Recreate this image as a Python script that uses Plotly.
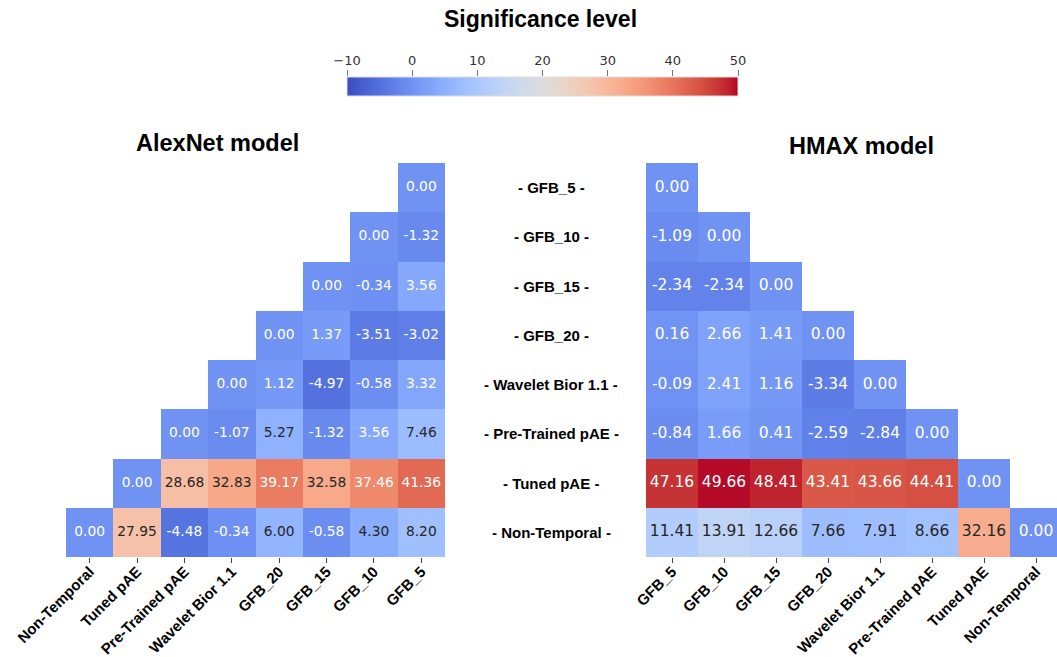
import plotly.graph_objects as go
import numpy as np

# ---------------- data ----------------
rows = ["GFB_5", "GFB_10", "GFB_15", "GFB_20", "Wavelet Bior 1.1",
        "Pre-Trained pAE", "Tuned pAE", "Non-Temporal"]
alex_cols = ["Non-Temporal", "Tuned pAE", "Pre-Trained pAE", "Wavelet Bior 1.1",
             "GFB_20", "GFB_15", "GFB_10", "GFB_5"]
hmax_cols = ["GFB_5", "GFB_10", "GFB_15", "GFB_20", "Wavelet Bior 1.1",
             "Pre-Trained pAE", "Tuned pAE", "Non-Temporal"]
N = None
alex_z = [
    [N, N, N, N, N, N, N, 0.00],
    [N, N, N, N, N, N, 0.00, -1.32],
    [N, N, N, N, N, 0.00, -0.34, 3.56],
    [N, N, N, N, 0.00, 1.37, -3.51, -3.02],
    [N, N, N, 0.00, 1.12, -4.97, -0.58, 3.32],
    [N, N, 0.00, -1.07, 5.27, -1.32, 3.56, 7.46],
    [N, 0.00, 28.68, 32.83, 39.17, 32.58, 37.46, 41.36],
    [0.00, 27.95, -4.48, -0.34, 6.00, -0.58, 4.30, 8.20],
]
hmax_z = [
    [0.00, N, N, N, N, N, N, N],
    [-1.09, 0.00, N, N, N, N, N, N],
    [-2.34, -2.34, 0.00, N, N, N, N, N],
    [0.16, 2.66, 1.41, 0.00, N, N, N, N],
    [-0.09, 2.41, 1.16, -3.34, 0.00, N, N, N],
    [-0.84, 1.66, 0.41, -2.59, -2.84, 0.00, N, N],
    [47.16, 49.66, 48.41, 43.41, 43.66, 44.41, 0.00, N],
    [11.41, 13.91, 12.66, 7.66, 7.91, 8.66, 32.16, 0.00],
]
cbar_ticks = [-10, 0, 10, 20, 30, 40, 50]
zmin, zmax = -10, 50

# ---------------- style ----------------
W, H = 1057, 657
coolwarm_rgb = [
    (59, 76, 192), (68, 90, 204), (77, 104, 215), (87, 117, 225), (98, 130, 234),
    (108, 142, 241), (119, 154, 247), (130, 165, 251), (141, 176, 254), (152, 185, 255),
    (163, 194, 255), (174, 201, 253), (184, 208, 249), (194, 213, 244), (204, 217, 238),
    (213, 219, 230), (221, 221, 221), (229, 216, 209), (236, 211, 197), (241, 204, 184),
    (245, 196, 172), (247, 187, 159), (247, 177, 147), (247, 166, 134), (244, 154, 123),
    (241, 141, 111), (236, 127, 99), (229, 112, 88), (222, 96, 77), (213, 80, 66),
    (203, 62, 56), (192, 40, 47), (180, 4, 38)]
nstops = len(coolwarm_rgb) - 1
colorscale = [[i / nstops, "rgb(%d,%d,%d)" % c] for i, c in enumerate(coolwarm_rgb)]


def cell_color(v):
    t = (v - zmin) / (zmax - zmin) * nstops
    t = min(max(t, 0), nstops)
    i = min(int(t), nstops - 1)
    f = t - i
    a, b = np.array(coolwarm_rgb[i]), np.array(coolwarm_rgb[i + 1])
    return (a + (b - a) * f) / 255.0


def text_color(v):
    rgb = cell_color(v)
    rgb = np.where(rgb <= .03928, rgb / 12.92, ((rgb + .055) / 1.055) ** 2.4)
    lum = rgb.dot([.2126, .7152, .0722])
    return "#262626" if lum > .408 else "white"


def px_x(p):
    return p / W


def px_y(p):
    return 1 - p / H


fig = go.Figure()

# heatmaps
fig.add_trace(go.Heatmap(z=alex_z, x=alex_cols, y=rows, coloraxis="coloraxis",
                         xaxis="x", yaxis="y", hoverongaps=False))
fig.add_trace(go.Heatmap(z=hmax_z, x=hmax_cols, y=rows, coloraxis="coloraxis",
                         xaxis="x2", yaxis="y2", hoverongaps=False))


def text_trace(z, cols, xa, ya, size):
    xs, ys, ts, cs = [], [], [], []
    for r, row in zip(rows, z):
        for c, v in zip(cols, row):
            if v is None:
                continue
            xs.append(c)
            ys.append(r)
            ts.append(f"{v:.2f}")
            cs.append(text_color(v))
    return go.Scatter(x=xs, y=ys, text=ts, mode="text", xaxis=xa, yaxis=ya,
                      textfont=dict(family="DejaVu Sans", size=size, color=cs),
                      hoverinfo="skip", showlegend=False)


fig.add_trace(text_trace(alex_z, alex_cols, "x", "y", 13.8))
fig.add_trace(text_trace(hmax_z, hmax_cols, "x2", "y2", 15.5))

# axis carrying the colorbar tick labels (on top of the bar)
fig.add_trace(go.Scatter(x=[], y=[], xaxis="x3", yaxis="y3", showlegend=False))

bar_x0, bar_x1, bar_top, bar_bot = 347, 738, 77, 96
left_x0, left_x1 = 66, 445
right_x0 = 646
right_cell = 52
top_y, bot_y = 163, 557

tickfont = dict(family="Liberation Sans", size=15, color="black", weight="bold")

fig.update_layout(
    width=W, height=H, margin=dict(l=0, r=0, t=0, b=0),
    paper_bgcolor="white", plot_bgcolor="white", template="none",
    showlegend=False,
    coloraxis=dict(
        colorscale=colorscale, cmin=zmin, cmax=zmax,
        colorbar=dict(orientation="h", x=px_x((bar_x0 + bar_x1) / 2), xanchor="center",
                      y=px_y(bar_top), yanchor="top", len=bar_x1 - bar_x0, lenmode="pixels",
                      thickness=bar_bot - bar_top, thicknessmode="pixels",
                      xpad=0, ypad=0, showticklabels=False, ticks="",
                      outlinewidth=1, outlinecolor="#dddddd"),
    ),
    xaxis=dict(domain=[px_x(left_x0), px_x(left_x1)], anchor="y",
               categoryorder="array", categoryarray=alex_cols,
               range=[-0.5, 7.5], tickangle=-45, tickfont=tickfont,
               ticks="outside", ticklen=5, tickcolor="#444", ticklabelstandoff=-6,
               showgrid=False, zeroline=False, showline=False, automargin=False),
    yaxis=dict(domain=[px_y(bot_y), px_y(top_y)], anchor="x",
               categoryorder="array", categoryarray=rows,
               range=[7.5, -0.5], showticklabels=False, ticks="",
               showgrid=False, zeroline=False, showline=False, automargin=False),
    xaxis2=dict(domain=[px_x(right_x0), 1.0], anchor="y2",
                categoryorder="array", categoryarray=hmax_cols,
                range=[-0.5, -0.5 + (W - right_x0) / right_cell], tickangle=-45,
                tickfont=tickfont, ticks="outside", ticklen=5, tickcolor="#444",
                ticklabelstandoff=-6,
                showgrid=False, zeroline=False, showline=False, automargin=False),
    yaxis2=dict(domain=[px_y(bot_y), px_y(top_y)], anchor="x2",
                categoryorder="array", categoryarray=rows,
                range=[7.5, -0.5], showticklabels=False, ticks="",
                showgrid=False, zeroline=False, showline=False, automargin=False),
    xaxis3=dict(domain=[px_x(bar_x0), px_x(bar_x1)], anchor="y3", side="top",
                range=[zmin, zmax], tickvals=cbar_ticks, ticks="outside", ticklen=6,
                tickcolor="#777", tickfont=dict(family="DejaVu Sans", size=13, color="#333333"),
                showgrid=False, zeroline=False, showline=False, automargin=False,
                fixedrange=True),
    yaxis3=dict(domain=[px_y(bar_top) - 0.01, px_y(bar_top)], anchor="x3",
                visible=False, range=[0, 1], fixedrange=True),
)

title_font = dict(family="Liberation Sans", size=23.5, color="black", weight="bold")
annotations = [
    dict(text="Significance level", x=px_x(540), y=px_y(19), xref="paper", yref="paper",
         xanchor="center", yanchor="middle", showarrow=False,
         font=dict(family="Liberation Sans", size=23, color="black", weight="bold")),
    dict(text="AlexNet model", x=px_x(217.5), y=px_y(143), xref="paper", yref="paper",
         xanchor="center", yanchor="middle", showarrow=False, font=title_font),
    dict(text="HMAX model", x=px_x(861.5), y=px_y(146), xref="paper", yref="paper",
         xanchor="center", yanchor="middle", showarrow=False, font=title_font),
]
for r in rows:
    annotations.append(dict(text=f"- {r} -", x=px_x(551), y=r, xref="paper", yref="y",
                            xanchor="center", yanchor="middle", showarrow=False,
                            font=dict(family="Liberation Sans", size=15, color="black",
                                      weight="bold")))
fig.update_layout(annotations=annotations)

fig.write_html("out.html")
